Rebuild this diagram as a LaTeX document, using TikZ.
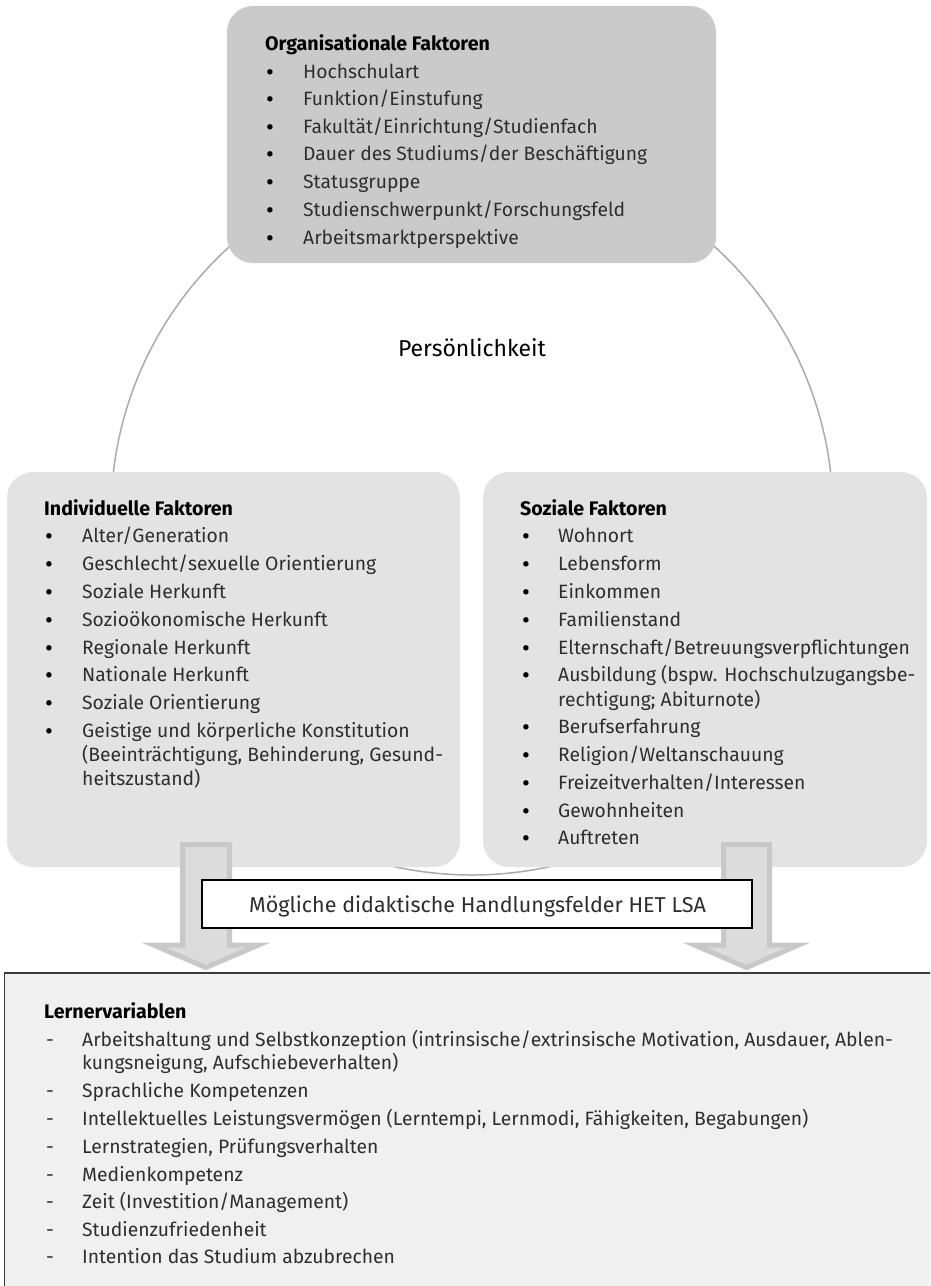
\documentclass[tikz,border=0pt]{standalone}
\usepackage{fontspec}
\setmainfont{Fira Sans}
\definecolor{topfill}{HTML}{CACACA}
\definecolor{sidefill}{HTML}{E3E3E3}
\definecolor{lowfill}{HTML}{F0F0F0}
\definecolor{arrfill}{HTML}{DCDCDC}
\definecolor{arrline}{HTML}{C8C8C8}
\definecolor{circline}{HTML}{ABABAB}
\definecolor{txtcol}{HTML}{2E2E2E}
\definecolor{lowline}{HTML}{3C3C3C}
\begin{document}
\begin{tikzpicture}[x=1pt,y=-1pt,
  item/.style={anchor=base west, inner sep=0pt, font=\fontsize{19.3}{22}\selectfont, text=txtcol},
  headline/.style={anchor=base west, inner sep=0pt, font=\fontsize{19.6}{22}\selectfont\bfseries, text=black},
  bul/.style={anchor=base, inner sep=0pt, font=\fontsize{24}{26}\selectfont, text=black},
  dashmark/.style={anchor=base, inner sep=0pt, font=\fontsize{19.3}{22}\selectfont, text=txtcol},
  panel/.style={draw=none, rounded corners=26pt, inner sep=0pt},
  blockarrow/.style={draw=arrline, fill=arrfill, line width=5pt, line join=miter}]
\useasboundingbox (0,0) rectangle (930,1286);
\clip (0,0) rectangle (930,1286);
\fill[white] (0,0) rectangle (930,1286);

% circle
\draw[circline, line width=1.5pt] (472,514) circle[radius=361pt];

% panels
\node[panel, fill=topfill, minimum width=489pt, minimum height=257pt] (org) at (471.5,134.5) {};
\node[panel, fill=sidefill, minimum width=453pt, minimum height=395pt] (ind) at (233.5,669.5) {};
\node[panel, fill=sidefill, minimum width=444pt, minimum height=395pt] (soz) at (705,669.5) {};

\node[inner sep=0pt, font=\fontsize{23}{26}\selectfont, text=black, anchor=base] (pers) at (472,356) {Persönlichkeit};

% top panel text
\node[headline] (orgt) at (265,50) {Organisationale Faktoren};
\foreach \y/\t in {78/Hochschulart, 105/Funktion\slash Einstufung, 133/Fakultät\slash Einrichtung\slash Studienfach,
  160/Dauer des Studiums\slash der Beschäftigung, 188/Statusgruppe, 216/Studienschwerpunkt\slash Forschungsfeld,
  244/Arbeitsmarktperspektive}{
  \node[bul] at (270,\y+2) {•};
  \node[item] at (303,\y) {\t};
}

% left panel text
\node[headline] (indt) at (44,515) {Individuelle Faktoren};
\foreach \y/\t in {542/Alter\slash Generation, 570/Geschlecht\slash sexuelle Orientierung, 598/Soziale Herkunft,
  626/Sozioökonomische Herkunft, 654/Regionale Herkunft, 681/Nationale Herkunft, 709/Soziale Orientierung,
  737/Geistige und körperliche Konstitution}{
  \node[bul] at (49,\y+2) {•};
  \node[item] at (82,\y) {\t};
}
\node[item] at (82,761) {(Beeinträchtigung, Behinderung, Gesund-};
\node[item] at (82,785) {heitszustand)};

% right panel text
\node[headline] (sozt) at (520,515) {Soziale Faktoren};
\foreach \y/\t in {542/Wohnort, 570/Lebensform, 598/Einkommen, 626/Familienstand,
  654/Elternschaft\slash Betreuungsverpflichtungen, 681/{Ausbildung (bspw. Hochschulzugangsbe-},
  733/Berufserfahrung, 761/Religion\slash Weltanschauung, 789/Freizeitverhalten\slash Interessen,
  817/Gewohnheiten, 844/Auftreten}{
  \node[bul] at (526,\y+2) {•};
  \node[item] at (558,\y) {\t};
}
\node[item] at (558,706) {rechtigung; Abiturnote)};

% lower box (only its left and top edges lie on the page)
\fill[lowfill] (4.5,973) rectangle (940,1300);
\coordinate (lernbl) at (4.5,1300);
\coordinate (lerntl) at (4.5,973);
\coordinate (lerntr) at (940,973);
\draw[lowline, line width=1.3pt] (lernbl) -- (lerntl) -- (lerntr);

% block arrows
\draw[blockarrow] (182.5,844.5) -- (229.5,844.5) -- (229.5,945) -- (258.5,945) -- (206,967.5) -- (153.5,945) -- (182.5,945) -- cycle;
\draw[blockarrow] (723.5,844.5) -- (769.5,844.5) -- (769.5,945) -- (798.5,945) -- (746.5,967.5) -- (694.5,945) -- (723.5,945) -- cycle;

% middle box
\node[draw=black, line width=1.2pt, fill=white, minimum width=550pt, minimum height=48pt, inner sep=0pt] (hand) at (477,904) {};
\node[inner sep=0pt, anchor=base, font=\fontsize{21.5}{24}\selectfont, text=txtcol] (handt) at (477.5,912) {Mögliche didaktische Handlungsfelder HET LSA};

% lower text
\node[headline] (lernt) at (44,1018) {Lernervariablen};
\foreach \y/\t in {1046/{Arbeitshaltung und Selbstkonzeption (intrinsische\slash extrinsische Motivation, Ausdauer, Ablen-},
  1097/Sprachliche Kompetenzen,
  1125/{Intellektuelles Leistungsvermögen (Lerntempi, Lernmodi, Fähigkeiten, Begabungen)},
  1153/{Lernstrategien, Prüfungsverhalten}, 1181/Medienkompetenz, 1208/Zeit (Investition\slash Management),
  1236/Studienzufriedenheit, 1263/Intention das Studium abzubrechen}{
  \node[dashmark] at (50,\y) {-};
  \node[item] at (82,\y) {\t};
}
\node[item] at (82,1069) {kungsneigung, Aufschiebeverhalten)};
\end{tikzpicture}
\end{document}
